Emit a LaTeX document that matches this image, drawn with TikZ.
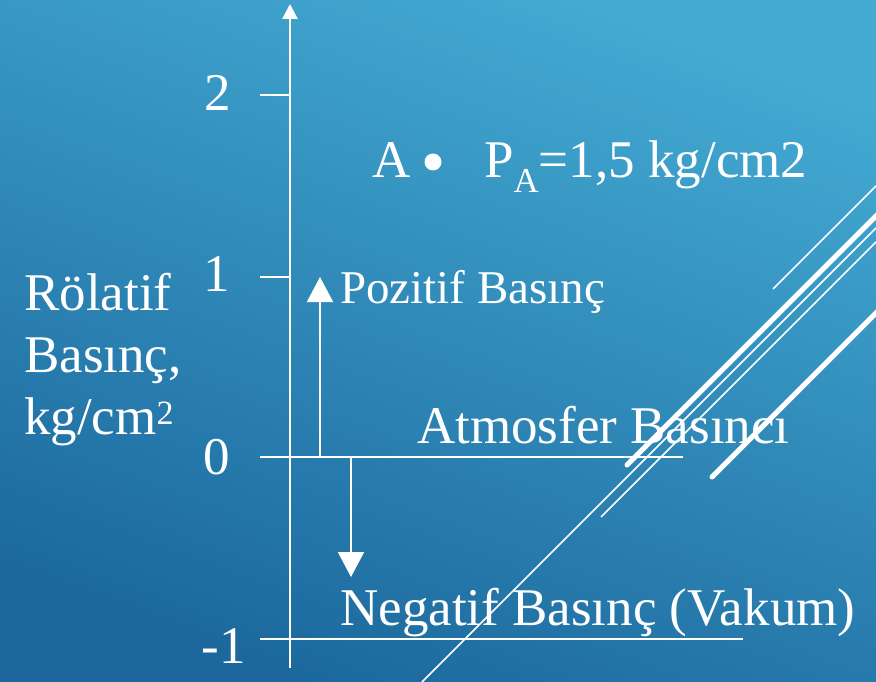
\documentclass[tikz,border=0pt]{standalone}
\usepackage{fontspec}
\setmainfont{Liberation Serif}
\usetikzlibrary{arrows.meta}
\definecolor{bgtop}{RGB}{67,170,210}
\definecolor{bgbot}{RGB}{28,104,157}
\begin{document}
\begin{tikzpicture}[x=1pt,y=-1pt,
  lbl/.style={inner sep=0pt, text=white, font=\fontsize{53}{61}\selectfont},
  lblsmall/.style={inner sep=0pt, text=white, font=\fontsize{47}{55}\selectfont},
  axisline/.style={draw=white, line width=2.5pt},
  gridline/.style={draw=white, line width=1.5pt},
  arrowline/.style={draw=white, line width=2pt, -{Triangle[width=26pt,length=25pt]}},
  thinstripe/.style={draw=white, line width=1.5pt},
  thickstripe/.style={draw=white, line width=5pt, line cap=round}]
\shade[top color=bgtop, bottom color=bgbot, shading angle=340] (0,0) rectangle (876,682);
\useasboundingbox (0,0) rectangle (876,682);

% decorative stripes
\begin{scope}
\clip (0,0) rectangle (876,682);
\coordinate (sA1) at (422,682); \coordinate (sA2) at (876,228);
\coordinate (sB1) at (601,517); \coordinate (sB2) at (876,242);
\coordinate (sC1) at (627,465); \coordinate (sC2) at (880,212);
\coordinate (sD1) at (712,477); \coordinate (sD2) at (880,309);
\coordinate (sE1) at (773,289); \coordinate (sE2) at (876,186);
\draw[thinstripe] (sA1) -- (sA2);
\draw[thinstripe] (sB1) -- (sB2);
\draw[thickstripe] (sC1) -- (sC2);
\draw[thickstripe] (sD1) -- (sD2);
\draw[thinstripe] (sE1) -- (sE2);
\end{scope}

% axis
\coordinate (axbot) at (290,668);
\coordinate (axtop) at (290,4);
\draw[axisline, -{Triangle[width=15pt,length=15pt]}] (axbot) -- (axtop);

% ticks and reference lines
\coordinate (t2a) at (260,95);  \coordinate (t2b) at (290,95);
\coordinate (t1a) at (260,277); \coordinate (t1b) at (290,277);
\coordinate (t0a) at (260,457); \coordinate (t0b) at (683,457);
\coordinate (tma) at (260,639); \coordinate (tmb) at (743,639);
\draw[gridline] (t2a) -- (t2b);
\draw[gridline] (t1a) -- (t1b);
\draw[gridline] (t0a) -- (t0b);
\draw[gridline] (tma) -- (tmb);

% tick labels
\node[lbl, anchor=base] (n2) at (218,111) {2};
\node[lbl, anchor=base] (n1) at (217,291) {1};
\node[lbl, anchor=base] (n0) at (217,474) {0};
\node[lbl, anchor=base] (nm1) at (224,663) {-1};

% axis title
\node[lbl, anchor=base west] (yl1) at (24,310) {Rölatif};
\node[lbl, anchor=base west] (yl2) at (24,372) {Basınç,};
\node[lbl, anchor=base west] (yl3) at (24,434) {kg/cm\raisebox{10pt}{\fontsize{34}{34}\selectfont 2}};

% point A
\node[lbl, anchor=base west] (la) at (372,178) {A};
\node[circle, fill=white, inner sep=0pt, minimum size=17pt] (pointA) at (433,162) {};
\node[lbl, anchor=base west] (pa) at (484,178) {P\raisebox{-15pt}{\fontsize{35}{35}\selectfont A}=1,5 kg/cm2};

% arrows
\coordinate (upfrom) at (320,457); \coordinate (upto) at (320,277);
\coordinate (dnfrom) at (351,457); \coordinate (dnto) at (351,577);
\draw[arrowline] (upfrom) -- (upto);
\draw[arrowline] (dnfrom) -- (dnto);

% labels
\node[lblsmall, anchor=base west] (poz) at (340,303) {Pozitif Basınç};
\node[lbl, anchor=base west] (atm) at (417,443) {Atmosfer Basıncı};
\node[lbl, anchor=base west] (neg) at (340,625) {Negatif Basınç (Vakum)};
\end{tikzpicture}
\end{document}
